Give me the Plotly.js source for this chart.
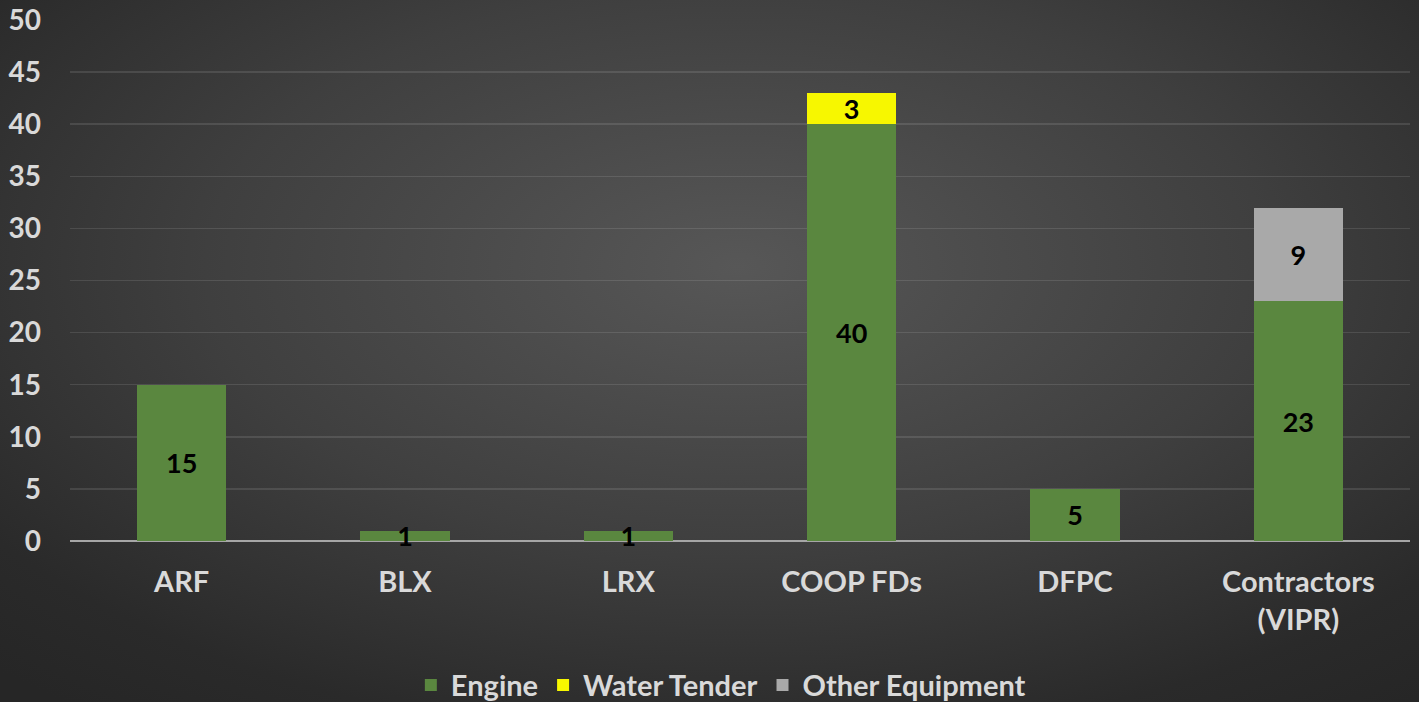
<!DOCTYPE html>
<html>
<head>
<meta charset="utf-8">
<script src="https://cdn.plot.ly/plotly-3.0.1.min.js"></script>
<style>
  html, body { margin: 0; padding: 0; width: 1419px; height: 702px; overflow: hidden; }
  body { background: radial-gradient(ellipse 75% 80% at 52% 38%, #575757 0%, #3f3f3f 50%, #2a2a2a 85%, #262626 100%); }
  #chart { width: 1419px; height: 702px; }
</style>
</head>
<body>
<div id="chart"></div>
<script>
const categories = ["ARF", "BLX", "LRX", "COOP FDs", "DFPC", "Contractors<br>(VIPR)"];
const engine = [15, 1, 1, 40, 5, 23];
const waterTender = [null, null, null, 3, null, null];
const otherEquipment = [null, null, null, null, null, 9];
const yTicks = [0, 5, 10, 15, 20, 25, 30, 35, 40, 45, 50];

const FONT = "Lato, 'Open Sans', sans-serif";
const labelFont = { family: FONT, size: 27, color: "#000000", weight: "bold" };

function series(name, values, color) {
  return {
    type: "bar", name: name, x: categories, y: values,
    marker: { color: color, line: { width: 0 } },
    text: values.map(v => v == null ? "" : String(v)),
    textposition: "inside", insidetextanchor: "middle", textangle: 0,
    constraintext: "none", cliponaxis: false,
    textfont: labelFont, hoverinfo: "skip"
  };
}

const data = [
  series("Engine", engine, "#5a873f"),
  series("Water Tender", waterTender, "#f7f700"),
  series("Other Equipment", otherEquipment, "#a9a9a9")
];

const layout = {
  width: 1419, height: 702,
  barmode: "stack", bargap: 0.6,
  paper_bgcolor: "rgba(0,0,0,0)", plot_bgcolor: "rgba(0,0,0,0)",
  margin: { l: 70, r: 9, t: 20, b: 161 },
  font: { family: FONT, color: "#d9d9d9", weight: "bold" },
  xaxis: {
    tickfont: { family: FONT, size: 29, color: "#d9d9d9", weight: "bold" },
    showgrid: false, zeroline: false, showline: false, ticks: "",
    ticklabelstandoff: 21, fixedrange: true
  },
  yaxis: {
    range: [0, 50], tickvals: yTicks, ticktext: yTicks.map(String),
    tickfont: { family: FONT, size: 28, color: "#d9d9d9", weight: "bold" },
    showgrid: true, gridcolor: "rgba(255,255,255,0.11)", gridwidth: 1.5,
    zeroline: true, zerolinecolor: "#a6a6a6", zerolinewidth: 2.5,
    showline: false, ticks: "", ticklabelstandoff: 28, fixedrange: true
  },
  legend: {
    orientation: "h", xref: "container", yref: "container",
    x: 0.508, xanchor: "center", y: 0.024, yanchor: "middle",
    traceorder: "normal",
    font: { family: FONT, size: 29, color: "#d9d9d9", weight: "bold" },
    itemsizing: "constant", itemwidth: 30, tracegroupgap: 0, bgcolor: "rgba(0,0,0,0)"
  },
  showlegend: true
};

Plotly.newPlot("chart", data, layout, { displayModeBar: false, staticPlot: true });
</script>
</body>
</html>
